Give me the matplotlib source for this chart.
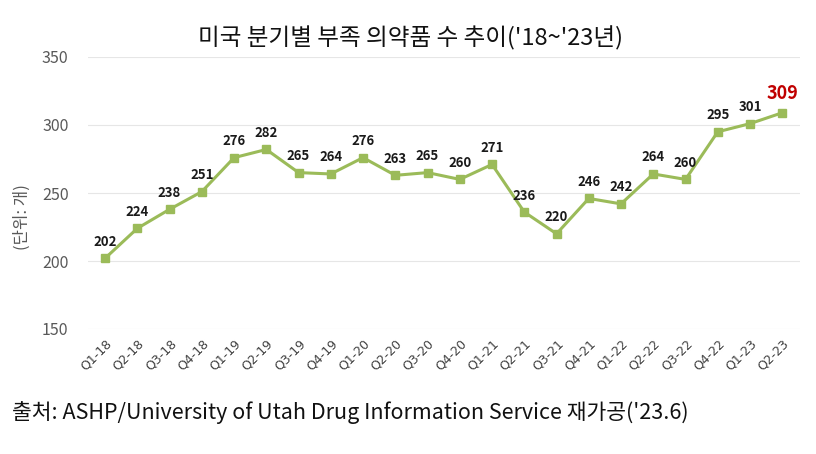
import matplotlib
matplotlib.use("Agg")
import matplotlib.pyplot as plt

plt.rcParams['font.family'] = ['Noto Sans CJK KR', 'DejaVu Sans']

quarters = ['Q1-18', 'Q2-18', 'Q3-18', 'Q4-18', 'Q1-19', 'Q2-19', 'Q3-19', 'Q4-19',
            'Q1-20', 'Q2-20', 'Q3-20', 'Q4-20', 'Q1-21', 'Q2-21', 'Q3-21', 'Q4-21',
            'Q1-22', 'Q2-22', 'Q3-22', 'Q4-22', 'Q1-23', 'Q2-23']
shortages = [202, 224, 238, 251, 276, 282, 265, 264, 276, 263, 265, 260, 271, 236,
             220, 246, 242, 264, 260, 295, 301, 309]

fig = plt.figure(figsize=(8.16, 4.54), dpi=100)
ax = fig.add_axes([88/816, 1 - 329/454, 712/816, 272/454])

x = range(len(quarters))
ax.plot(x, shortages, color='#9BBB59', lw=2.2, marker='s', ms=6, mec='#9BBB59', mfc='#9BBB59')

for i, v in enumerate(shortages):
    if i == len(shortages) - 1:
        ax.text(i, v + 7, str(v), ha='center', va='bottom', fontsize=13,
                fontweight='bold', color='#C00000')
    else:
        ax.text(i, v + 7, str(v), ha='center', va='bottom', fontsize=9.5,
                fontweight='bold', color='#1a1a1a')

ax.set_ylim(150, 350)
ax.set_xlim(-0.53, 21.55)
ax.set_yticks([150, 200, 250, 300, 350])
ax.set_xticks(list(x))
ax.set_xticklabels(quarters, rotation=45, ha='right', rotation_mode='anchor',
                   fontsize=9, color='#404040', family='DejaVu Sans')
ax.tick_params(axis='y', labelsize=11.5, colors='#595959', length=0, pad=14)
ax.tick_params(axis='x', length=0, pad=6)
ax.grid(axis='y', color='#E6E6E6', lw=0.8)
ax.set_axisbelow(True)
for s in ax.spines.values():
    s.set_visible(False)

fig.text(22/816, 1 - 217/454, '(단위: 개)', rotation=90, ha='center', va='center',
         fontsize=12, color='#595959')
fig.text(410/816, 1 - 38/454, "미국 분기별 부족 의약품 수 추이('18~'23년)", ha='center',
         va='center', fontsize=17, color='#111111')
fig.text(12/816, 1 - 413/454, "출처: ASHP/University of Utah Drug Information Service 재가공('23.6)",
         ha='left', va='center', fontsize=15.5, color='#111111')

fig.savefig('out.png', dpi=100)
